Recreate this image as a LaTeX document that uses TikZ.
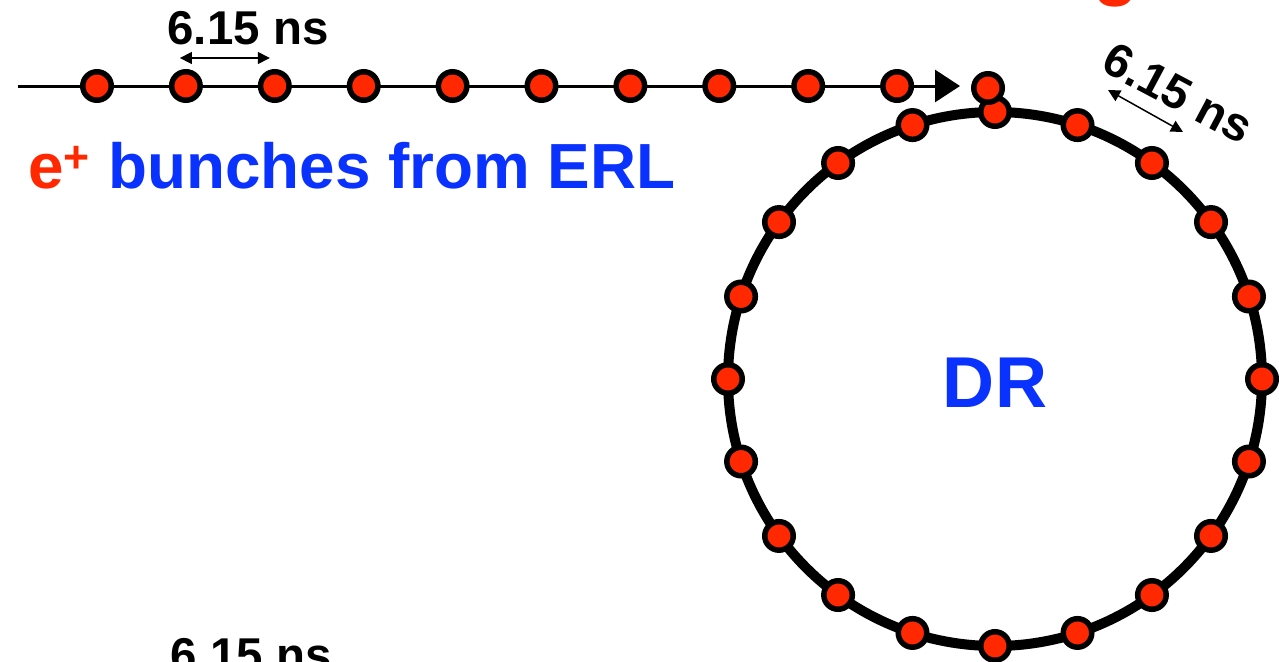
\documentclass[tikz,border=0pt]{standalone}
\usepackage{fontspec}
\setmainfont{Liberation Sans}
\usetikzlibrary{arrows.meta}
\definecolor{bunchred}{RGB}{255,40,0}
\definecolor{drblue}{RGB}{10,50,255}

\begin{document}
\begin{tikzpicture}[
    bunch/.style={circle, draw=black, fill=bunchred, line width=0.11cm,
        minimum size=0.57cm, inner sep=0pt},
    spacing/.style={{Triangle[length=0.24cm,width=0.24cm]}-{Triangle[length=0.24cm,width=0.24cm]},
        line width=0.03cm},
    timelabel/.style={font=\fontsize{27}{30}\selectfont\bfseries}]
    \useasboundingbox (0,0) rectangle (25.58,-13.22);

    % title letter, cut off at the top
    \node[anchor=base, text=bunchred, font=\fontsize{42}{46}\selectfont\bfseries] (title) at (22.32,0.18) {g};

    % injection line with the bunches
    \coordinate (start) at (0.36,-1.72);
    \coordinate (end) at (19.2,-1.72);
    \draw[line width=0.06cm, -{Triangle[length=0.5cm,width=0.64cm]}] (start) -- (end);
    \foreach \i in {1,...,10}
        \node[bunch] (b\i) at ({1.94+(\i-1)*1.778},-1.72) {};

    \node[timelabel] (t1) at (4.96,-0.56) {6.15 ns};
    \draw[spacing] ([shift={(-0.12,0.56)}]b2.center) -- ([shift={(-0.1,0.56)}]b3.center);

    \node[anchor=base west, font=\fontsize{36.3}{40}\selectfont\bfseries] (erl) at (0.44,-3.76)
        {\textcolor{bunchred}{e\textsuperscript{+}} \textcolor{drblue}{bunches from ERL}};

    % damping ring
    \node[circle, draw=black, line width=0.2cm, minimum size=10.68cm] (dr) at (19.9,-7.58) {};
    \node[text=drblue, font=\fontsize{41}{46}\selectfont\bfseries] (drlabel) at (19.9,-7.66) {DR};
    \foreach \k in {0,...,19}
        \node[bunch] (r\k) at ([shift={({90-18*\k}:5.34)}]dr.center) {};

    % bunch being injected
    \node[bunch] (inj) at (19.76,-1.76) {};

    \coordinate (s1) at (22.16,-1.8);
    \coordinate (s2) at (23.66,-2.64);
    \draw[spacing] (s1) -- (s2);
    \node[timelabel, rotate=-28] (t2) at (23.56,-1.86) {6.15 ns};

    \node[timelabel, anchor=base] (t3) at (5.02,-13.42) {6.15 ns};
\end{tikzpicture}
\end{document}
